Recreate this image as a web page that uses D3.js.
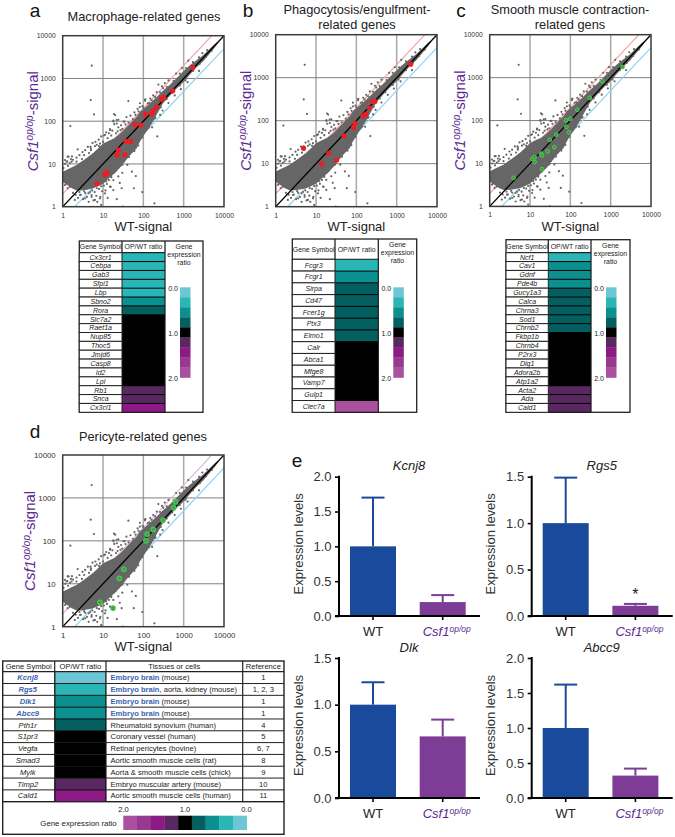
<!DOCTYPE html>
<html><head><meta charset="utf-8">
<script src="https://cdnjs.cloudflare.com/ajax/libs/d3/7.8.5/d3.min.js"></script>
<style>html,body{margin:0;background:#fff}svg{display:block;font-family:"Liberation Sans",Arial,sans-serif}</style>
</head><body><svg id="c" width="675" height="837"></svg>
<script>
// ---------- data ----------
const logTicks=[1,10,100,1000,10000];
const cloudWT   =[1,1.3,1.7,2.2,3,4,5.7,7.5,10,14,19,26,38,50,68,82,120,170,220,311,450,650,955,1400,2000,3020,4500,6000,7300];
const cloudUpper=[6.6,7.4,8.4,9.4,11.5,14,18,23,30,35,40,50,72,95,127,165,225,300,380,520,700,1000,1440,2000,2600,3500,5000,6500,7300];
const cloudLower=[3.8,3.2,2.7,2.4,2.4,2.5,2.7,3,3.4,4.6,6,8,12.5,17,23,33,58,95,150,265,390,570,790,1200,1750,2500,3900,5400,7000];
const fringe=[[5.24,1990],[4.95,312],[5.98,144],[1.55,77],[42.5,295],[18.7,147],[21.8,106],[18,103],[24,108],[2.35,22],[222,44],[188,1.2],[94,2.2],[58,2.7],[52,6.6],[26,3.6],[31,1],[1.4,14.8],[1.6,13],[1.3,11.5],[1.8,12.5],[1.15,10],[1.5,10.5],[2.2,14],[2.6,16],[3.1,19],[3.6,21],[4.2,25],[5,23],[5.5,31],[6.5,33],[7,28],[7.8,37],[9,44],[10.5,46],[12,55],[14,52],[15,65],[17,60],[19,85],[22,88],[24,72],[27,62],[28,80],[34,98],[38,125],[48,135],[60,160],[72,195],[82,215],[95,225],[110,300],[112,323],[128,260],[148,340],[175,400],[236,720],[215,480],[290,650],[340,780],[420,900],[650,1300],[900,1750],[1300,2600],[2400,1500],[2900,3900],[1100,900],[1.2,3.4],[1.5,2.9],[1.8,2.1],[2.1,1.9],[2.4,1.6],[2.8,1.9],[3.2,1.5],[3.6,2.1],[4,1.7],[4.4,1.3],[4.8,2.2],[5.2,1.7],[5.8,1.4],[6.2,2.2],[6.8,1.8],[7.2,1.3],[8,2.6],[8.6,1.7],[9.5,2.3],[9,1.1],[10.5,3.1],[11.5,2.4],[12.5,3.4],[13,1.6],[14,4.2],[15.5,2.9],[16,5.2],[18,4.2],[19,6.3],[22,1.5],[22,7.8],[24,5.1],[27,9.2],[30,6.2],[33,11.5],[37,15],[40,9.5],[45,19],[52,24],[65,5.2],[68,30],[75,36],[90,45],[105,58],[120,63],[135,70],[150,88],[200,120],[165,72],[260,140],[300,178],[420,265],[600,400],[850,560],[1250,820],[1.1,5],[1.05,8],[1.7,15],[2,8],[1.25,6.5],[1.35,9],
[1.25,11.3],[1.33,14.8],[1.66,11.3],[1.14,12.3],[2.2,11.3],[4.9,25],[6.3,26],[6.9,19],[8.4,30],[11.2,48],[14.9,62],[18.2,98],[20,139],[32,98],[5.2,1.87],[6.3,1.44],[8.4,1.57],[11.2,2.05],[14.9,2.95],[18,2.45],[29,2.7],[3.6,1.57],[4.4,2.05],[2.7,1.87],[2,1.44],[1.14,3.2],[1.33,2.7],[1.1,4],[110,312],[82,263],[311,590],[3,13],[3.4,16],[4.5,18],[5,21],[8,26],[10,33],[13,40],[16,46],[21,52],[23,58],[30,66],[36,84],[43,92],[55,112],[64,140],[76,170],[100,205],[140,265],[160,310],[195,370],[260,470],[380,640],[560,880],[800,1300],[1150,1750],[1700,2400],[2400,3100],[3800,4600],[1.6,3.1],[2.6,2.2],[3.4,2.3],[5.4,2.4],[7,2.7],[9,3],[12,3.9],[16,4.9],[21,6.9],[30,9.5],[44,14.5],[60,20],[75,27],[95,42],[140,75],[190,115],[270,210],[380,330],[520,460],[800,680],[1150,1000],[1700,1500],[2500,2200],[3600,3200],[5000,4500]];
const redA=[[7.1,3.45],[11.2,5.5],[11.6,6.1],[12.8,6.3],[22.2,15.9],[24,21],[35,16.4],[37,34],[48.5,33.7],[62,84],[87,81],[112,144],[161,150],[177,175],[214,216],[280,324],[318,360],[535,515],[1670,1800]];
const redB=[[4.9,23],[13.8,9.8],[20.5,17.4],[32.4,12.2],[49,44.7],[85,69.6],[92,87],[144,130],[171,140],[208,200],[257,280],[288,278],[2220,2060]];
const greenC=[[3.9,4.65],[11.4,12.8],[13,14],[13,10.8],[18.8,16.9],[19.8,15.4],[19.8,7.4],[27.4,19.1],[30.8,35.7],[40,23.8],[45,46.8],[78,102],[80,71.5],[93,53],[100,110],[149,178],[302,340],[621,820],[1970,1770]];
const greenD=[[8.4,3.7],[17.7,2.72],[25.4,13.4],[32.6,21.7],[116,101],[124,144],[176,185],[307,300],[566,590],[634,805]];

const ratioPalette=["#6dc6d3","#2ab6b6","#0b8f8f","#035f60","#000000","#5a2860","#8b1a85","#97398f","#a9509f"];
const genesA=["Cx3cr1","Cebpa","Gab3","Sfpi1","Lbp","Sbno2","Rora","Slc7a2","Raet1a","Nup85","Thoc5","Jmjd6","Casp8","Id2","Lpl","Rb1","Snca","Cx3cl1"];
const ratiosA=[.3,.3,.3,.3,.3,.55,.75,1,1,1,1,1,1,1,1,1.2,1.2,1.45];
const genesB=["Fcgr3","Fcgr1","Sirpa","Cd47","Fcer1g","Ptx3","Elmo1","Calr","Abca1","Mfge8","Vamp7","Gulp1","Clec7a"];
const ratiosB=[.3,.55,.75,.75,.75,.75,.75,1,1,1,1,1,1.9];
const genesC=["Ncf1","Cav1","Gdnf","Pde4b","Gucy1a3","Calca","Chrna3","Sod1","Chrnb2","Fkbp1b","Chrnb4","P2rx3","Dlg1","Adora2b","Atp1a2","Acta2","Ada","Cald1"];
const ratiosC=[.3,.55,.55,.55,.75,.75,.75,.75,.75,1,1,1,1,1,1,1.2,1.2,1.2];
const genesD=["Kcnj8","Rgs5","Dlk1","Abcc9","Pth1r","S1pr3","Vegfa","Smad3","Mylk","Timp2","Cald1"];
const ratiosD=[.1,.3,.55,.55,.75,1,1,1,1,1.2,1.45];
const tissuesBold=["Embryo brain","Embryo brain","Embryo brain","Embryo brain","","","","","","",""];
const tissuesRest=[" (mouse)",", aorta, kidney (mouse)"," (mouse)"," (mouse)","Rheumatoid synovium (human)","Coronary vessel (human)","Retinal pericytes (bovine)","Aortic smooth muscle cells (rat)","Aorta & smooth muscle cells (chick)","Embryo muscular artery (mouse)","Aortic smooth muscle cells (human)"];
const referencesD=["1","1, 2, 3","1","1","4","5","6, 7","8","9","10","11"];
const legendLevels=[.1,.3,.55,.75,1,1.2,1.45,1.65,1.9];
const barGroups=["WT","Csf1"];
const kcnj8Mean=[1,.2],kcnj8Err=[1.7,.3];
const rgs5Mean=[1,.11],rgs5Err=[1.49,.13];
const dlkMean=[1,.66],dlkErr=[1.24,.84];
const abcc9Mean=[1,.32],abcc9Err=[1.62,.42];

// ---------- drawing ----------
const svg=d3.select("#c");
const purple="#5b2a92", ink="#222";
const ratioColor=d3.scaleQuantize().domain([0,2]).range(ratioPalette);
const txt=(g,x,y,s,size,o={})=>g.append("text").attr("x",x).attr("y",y).attr("font-size",size)
  .attr("text-anchor",o.anchor||"middle").attr("fill",o.fill||ink).attr("font-style",o.italic?"italic":null)
  .attr("font-weight",o.bold?"bold":null).text(s);

function scatter(o){
  const x=d3.scaleLog().domain([1,10000]).range([o.x0,o.x1]);
  const y=d3.scaleLog().domain([1,10000]).range([o.y1,o.y0]);
  const id="clip"+o.id;
  const g=svg.append("g");
  g.append("clipPath").attr("id",id).append("rect").attr("x",o.x0).attr("y",o.y0).attr("width",o.x1-o.x0).attr("height",o.y1-o.y0);
  g.append("rect").attr("x",o.x0).attr("y",o.y0).attr("width",o.x1-o.x0).attr("height",o.y1-o.y0).attr("fill","#fff");
  const inner=logTicks.slice(1,4);
  g.selectAll(".v").data(inner).join("line").attr("x1",x).attr("x2",x).attr("y1",o.y0).attr("y2",o.y1).attr("stroke","#a8a8a8").attr("stroke-width",1.5);
  g.selectAll(".h").data(inner).join("line").attr("y1",y).attr("y2",y).attr("x1",o.x0).attr("x2",o.x1).attr("stroke","#808080").attr("stroke-width",1);
  const p=g.append("g").attr("clip-path",`url(#${id})`);
  const ln=(a,b,c)=>p.append("line").attr("x1",x(a[0])).attr("y1",y(a[1])).attr("x2",x(b[0])).attr("y2",y(b[1])).attr("stroke",c[0]).attr("stroke-width",c[1]);
  ln([1,2],[5000,10000],[o.upColor,1.2]);
  ln([2,1],[10000,5000],["#8fd3f0",1.2]);
  const area=d3.area().x((d,i)=>x(d)).y0((d,i)=>y(cloudLower[i])).y1((d,i)=>y(cloudUpper[i]));
  p.append("path").attr("d",area(cloudWT)).attr("fill","#666");
  p.selectAll(".f").data(fringe).join("circle").attr("cx",d=>x(d[0])).attr("cy",d=>y(d[1])).attr("r",1.1).attr("fill","#666");
  ln([1,1],[10000,10000],["#000",1.3]);
  p.selectAll(".m").data(o.marks).join("circle").attr("cx",d=>x(d[0])).attr("cy",d=>y(d[1]))
    .attr("r",o.r).attr("fill",o.fill).attr("stroke",o.stroke).attr("stroke-width",o.sw);
  g.append("rect").attr("x",o.x0).attr("y",o.y0).attr("width",o.x1-o.x0).attr("height",o.y1-o.y0).attr("fill","none").attr("stroke","#3a3a3a").attr("stroke-width",1.5);
  const xa=g.append("g").attr("transform",`translate(0,${o.y1+10.8})`).call(d3.axisBottom(x).tickValues(logTicks).tickFormat(d3.format("d")).tickSize(0).tickPadding(0));
  const ya=g.append("g").attr("transform",`translate(${o.x0-7},0)`).call(d3.axisLeft(y).tickValues(logTicks).tickFormat(d3.format("d")).tickSize(0).tickPadding(0));
  xa.select(".domain").remove(); ya.select(".domain").remove();
  g.selectAll("g text").attr("font-size",o.tick).attr("font-family","'Liberation Sans'").attr("fill","#333");
  xa.selectAll("text").attr("dy",0).attr("y",0);
  txt(g,(o.x0+o.x1)/2,o.y1+24.5,"WT-signal",13);
  const t=g.append("text").attr("transform",`translate(${o.x0-o.ylabDx},${(o.y0+o.y1)/2+o.ylabDy}) rotate(-90)`)
    .attr("text-anchor","middle").attr("font-size",15).attr("fill",purple);
  t.append("tspan").attr("font-style","italic").text("Csf1");
  t.append("tspan").attr("font-style","italic").attr("font-size",10).attr("dy",-5).text("op/op");
  t.append("tspan").attr("dy",5).text("-signal");
}
function geneTable(o){
  const g=svg.append("g");
  const y=d3.scaleBand().domain(o.genes).range([o.yh,o.y1]);
  g.append("rect").attr("x",o.x0).attr("y",o.y0).attr("width",o.x3-o.x0).attr("height",o.y1-o.y0).attr("fill","#fff").attr("stroke",ink).attr("stroke-width",1.3);
  g.append("rect").attr("x",o.x1).attr("y",o.yh).attr("width",o.x2-o.x1).attr("height",o.y1-o.yh).attr("fill","#000");
  g.append("line").attr("x1",o.x0).attr("x2",o.x2).attr("y1",o.yh).attr("y2",o.yh).attr("stroke",ink).attr("stroke-width",1.3);
  [o.x1,o.x2].forEach(v=>g.append("line").attr("x1",v).attr("x2",v).attr("y1",o.y0).attr("y2",o.y1).attr("stroke",ink).attr("stroke-width",1.3));
  const hy=(o.y0+o.yh)/2+2.4;
  txt(g,(o.x0+o.x1)/2,hy,"Gene Symbol",6.9);
  txt(g,(o.x1+o.x2)/2,hy,"OP/WT ratio",6.9);
  const row=g.selectAll(".r").data(o.genes).join("g");
  row.append("rect").attr("x",o.x0).attr("width",o.x1-o.x0).attr("y",d=>y(d)).attr("height",y.bandwidth()).attr("fill","#fff").attr("stroke",ink).attr("stroke-width",1);
  row.append("rect").attr("x",o.x1+.5).attr("width",o.x2-o.x1-1).attr("y",d=>y(d)+.5).attr("height",y.bandwidth()-1).attr("fill",(d,i)=>ratioColor(o.ratios[i]));
  row.append("text").attr("x",(o.x0+o.x1)/2).attr("y",d=>y(d)+y.bandwidth()/2+2.4).attr("text-anchor","middle").attr("font-size",7).attr("font-style","italic").attr("fill",ink).text(d=>d);
  // colour key
  const k=(o.x2+o.x3)/2;
  ["Gene","expression","ratio"].forEach((s,i)=>txt(g,k,o.y0+8+i*8.2,s,6.9));
  const ky=d3.scaleBand().domain(d3.range(legendLevels.length)).range([287.3,377.5]);
  g.selectAll(".k").data(legendLevels).join("rect").attr("x",o.kx).attr("width",10.5).attr("y",(d,i)=>ky(i)).attr("height",ky.bandwidth()+.3).attr("fill",d=>ratioColor(d));
  [["0.0",288],["1.0",333],["2.0",378]].forEach(a=>txt(g,o.kx-7,a[1]+2.5,a[0],7));
}
function pericyteTable(){
  const g=svg.append("g");
  const X=[2.7,54.7,106,242.7,284],Y0=661,Yh=671.7,Yb=801.7,Y1=834.3;
  const y=d3.scaleBand().domain(genesD).range([Yh,Yb]);
  g.append("rect").attr("x",X[0]).attr("y",Y0).attr("width",X[4]-X[0]).attr("height",Y1-Y0).attr("fill","#fff").attr("stroke",ink).attr("stroke-width",1.4);
  g.append("rect").attr("x",X[1]).attr("y",Yh).attr("width",X[2]-X[1]).attr("height",Yb-Yh).attr("fill","#000");
  g.append("line").attr("x1",X[0]).attr("x2",X[4]).attr("y1",Yh).attr("y2",Yh).attr("stroke",ink).attr("stroke-width",1.2);
  g.append("line").attr("x1",X[0]).attr("x2",X[4]).attr("y1",Yb).attr("y2",Yb).attr("stroke",ink).attr("stroke-width",1.2);
  X.slice(1,4).forEach(v=>g.append("line").attr("x1",v).attr("x2",v).attr("y1",Y0).attr("y2",Yb).attr("stroke",ink).attr("stroke-width",1.2));
  ["Gene Symbol","OP/WT ratio","Tissues or cells","Reference"].forEach((s,i)=>txt(g,(X[i]+X[i+1])/2,Y0+8,s,7.6));
  const r=g.selectAll(".r").data(genesD).join("g");
  r.append("line").attr("x1",X[0]).attr("x2",X[4]).attr("y1",d=>y(d)+y.bandwidth()).attr("y2",d=>y(d)+y.bandwidth()).attr("stroke",ink).attr("stroke-width",1);
  r.append("rect").attr("x",X[1]+.7).attr("width",X[2]-X[1]-1.4).attr("y",d=>y(d)+.5).attr("height",y.bandwidth()-1).attr("fill",(d,i)=>ratioColor(ratiosD[i]));
  r.append("text").attr("x",(X[0]+X[1])/2-1).attr("y",d=>y(d)+8.6).attr("text-anchor","middle").attr("font-size",7.6).attr("font-style","italic")
    .attr("font-weight",(d,i)=>i<4?"bold":null).attr("fill",(d,i)=>i<4?"#3a64b4":ink).text(d=>d);
  const t=r.append("text").attr("x",X[2]+4.5).attr("y",d=>y(d)+8.6).attr("font-size",7.6).attr("fill",ink);
  t.append("tspan").attr("font-weight","bold").attr("fill","#3a64b4").text((d,i)=>tissuesBold[i]);
  t.append("tspan").text((d,i)=>tissuesRest[i]);
  r.append("text").attr("x",(X[3]+X[4])/2).attr("y",d=>y(d)+8.6).attr("text-anchor","middle").attr("font-size",7.6).attr("fill",ink).text((d,i)=>referencesD[i]);
  const rev=legendLevels.slice().reverse();
  const kx=d3.scaleBand().domain(d3.range(rev.length)).range([123.3,246.7]);
  g.selectAll(".k").data(rev).join("rect").attr("x",(d,i)=>kx(i)).attr("width",kx.bandwidth()+.3).attr("y",815.7).attr("height",14.3).attr("fill",d=>ratioColor(d));
  [["2.0",123.5],["1.0",185],["0.0",246.5]].forEach(a=>txt(g,a[1],812,a[0],7.6));
  txt(g,78.5,825.5,"Gene expression ratio",7.8);
}
function barChart(o){
  const g=svg.append("g");
  const y=d3.scaleLinear().domain([0,o.max]).range([o.y0,o.yT]);
  const x=d3.scaleBand().domain(barGroups).range([o.ax+11,o.ax+126.7]).paddingInner(.34).paddingOuter(0);
  const colors=["#1a4a9c","#7d3c96"];
  const yy=g.append("g").attr("transform",`translate(${o.ax},0)`).call(d3.axisLeft(y).tickValues(o.ticks).tickFormat(d3.format(".1f")).tickSize(4).tickPadding(3.5));
  yy.selectAll("line").attr("stroke","#000").attr("stroke-width",1.6);
  yy.select(".domain").remove();
  yy.selectAll("text").attr("font-size",13).attr("font-family","'Liberation Sans'").attr("fill","#333");
  const err=g.selectAll(".e").data(barGroups).join("g");
  err.append("line").attr("x1",d=>x(d)+x.bandwidth()/2).attr("x2",d=>x(d)+x.bandwidth()/2).attr("y1",(d,i)=>y(o.mean[i])).attr("y2",(d,i)=>y(o.err[i])).attr("stroke",(d,i)=>colors[i]).attr("stroke-width",2);
  err.append("line").attr("x1",d=>x(d)+x.bandwidth()/2-11.5).attr("x2",d=>x(d)+x.bandwidth()/2+11.5).attr("y1",(d,i)=>y(o.err[i])).attr("y2",(d,i)=>y(o.err[i])).attr("stroke",(d,i)=>colors[i]).attr("stroke-width",2);
  g.selectAll(".b").data(barGroups).join("rect").attr("x",d=>x(d)).attr("width",x.bandwidth()).attr("y",(d,i)=>y(o.mean[i])).attr("height",(d,i)=>o.y0-y(o.mean[i])).attr("fill",(d,i)=>colors[i]);
  g.append("line").attr("x1",o.ax).attr("x2",o.ax).attr("y1",o.yT-1).attr("y2",o.y0+1).attr("stroke","#000").attr("stroke-width",2);
  g.append("line").attr("x1",o.ax-4).attr("x2",o.ax+141).attr("y1",o.y0).attr("y2",o.y0).attr("stroke","#000").attr("stroke-width",2);
  barGroups.forEach(b=>g.append("line").attr("x1",x(b)+x.bandwidth()/2).attr("x2",x(b)+x.bandwidth()/2).attr("y1",o.y0).attr("y2",o.y0+4).attr("stroke","#000").attr("stroke-width",1.6));
  txt(g,x("WT")+x.bandwidth()/2,o.y0+19.5,"WT",13);
  const c=g.append("text").attr("x",x("Csf1")+x.bandwidth()/2+4).attr("y",o.y0+19.5).attr("text-anchor","middle").attr("fill",purple).attr("font-size",13).attr("font-style","italic");
  c.append("tspan").text("Csf1");
  c.append("tspan").attr("font-size",8.5).attr("dy",-4).text("op/op");
  txt(g,o.ax+70,o.yT-6.5,o.title,13,{italic:true});
  g.append("text").attr("transform",`translate(${o.ax-36.5},${(o.y0+o.yT)/2-2.5}) rotate(-90)`).attr("text-anchor","middle").attr("font-size",13).attr("fill","#333").text("Expression levels");
  if(o.star) txt(g,x("Csf1")+x.bandwidth()/2,o.y0-16,"*",16);
}

scatter({id:"a",x0:62.7,x1:224,y0:35.7,y1:206.7,marks:redA,r:2.6,fill:"#ee1c25",stroke:"none",sw:0,tick:6.8,upColor:"#f4a3a3",ylabDx:25,ylabDy:0});
scatter({id:"b",x0:275.7,x1:437,y0:34.7,y1:206.7,marks:redB,r:2.6,fill:"#ee1c25",stroke:"none",sw:0,tick:6.8,upColor:"#f4a3a3",ylabDx:25,ylabDy:0});
scatter({id:"c",x0:489.7,x1:651,y0:34.7,y1:206.4,marks:greenC,r:1.9,fill:"#3d9a3d",stroke:"#55c85a",sw:1,tick:6.8,upColor:"#f4a3a3",ylabDx:25,ylabDy:0});
scatter({id:"d",x0:62.7,x1:224,y0:455,y1:626.7,marks:greenD,r:2.2,fill:"#4d9a4d",stroke:"#44c84a",sw:1.3,tick:7.8,upColor:"#dcbcdc",ylabDx:28,ylabDy:0});

const lab=svg.append("g");
[["a",35,17],["b",248,17],["c",461,17],["d",35,438],["e",297,467]].forEach(a=>txt(lab,a[1],a[2],a[0],19,{fill:"#111"}));
txt(lab,144,21,"Macrophage-related genes",12.8);
txt(lab,357,14,"Phagocytosis/engulfment-",12.8);
txt(lab,357,28.5,"related genes",12.8);
txt(lab,570,14,"Smooth muscle contraction-",12.8);
txt(lab,570,28.5,"related gens",12.8);
txt(lab,143,441,"Pericyte-related genes",12.8);

geneTable({genes:genesA,ratios:ratiosA,x0:79.3,x1:122,x2:165,x3:203,y0:241,yh:252.7,y1:412.3,kx:180});
geneTable({genes:genesB,ratios:ratiosB,x0:292.3,x1:335,x2:378.3,x3:416.7,y0:239,yh:259.3,y1:412.3,kx:393.3});
geneTable({genes:genesC,ratios:ratiosC,x0:506,x1:548.3,x2:591,x3:630,y0:239.7,yh:252.7,y1:412.3,kx:606});
pericyteTable();

barChart({ax:339,y0:616,yT:476.7,max:2,ticks:[0,.5,1,1.5,2],mean:kcnj8Mean,err:kcnj8Err,title:"Kcnj8"});
barChart({ax:531.7,y0:616,yT:476.7,max:1.5,ticks:[0,.5,1,1.5],mean:rgs5Mean,err:rgs5Err,title:"Rgs5",star:true});
barChart({ax:339,y0:798,yT:658,max:1.5,ticks:[0,.5,1,1.5],mean:dlkMean,err:dlkErr,title:"Dlk"});
barChart({ax:531.7,y0:798,yT:658,max:2,ticks:[0,.5,1,1.5,2],mean:abcc9Mean,err:abcc9Err,title:"Abcc9"});
</script></body></html>
